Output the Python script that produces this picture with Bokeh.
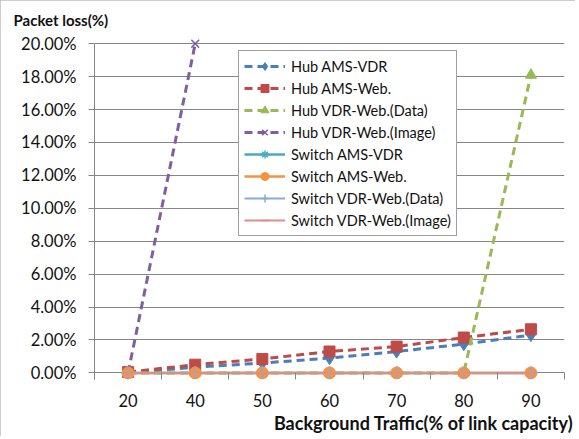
from bokeh.plotting import figure
from bokeh.models import FixedTicker, Legend, LegendItem, Title, InlineStyleSheet
from bokeh.embed import file_html
from bokeh.resources import INLINE

categories = ["20", "40", "50", "60", "70", "80", "90"]
hub_ams_vdr = [0.0, 0.35, 0.6, 0.9, 1.3, 1.75, 2.3]
hub_ams_web = [0.05, 0.5, 0.85, 1.3, 1.6, 2.15, 2.65]
hub_vdr_web_data = [0.0, 0.0, 0.0, 0.0, 0.0, 0.0, 18.1]
hub_vdr_web_image = [0.0, 20.0]
switch_ams_vdr = [0.0, 0.0, 0.0, 0.0, 0.0, 0.0, 0.0]
switch_ams_web = [0.0, 0.0, 0.0, 0.0, 0.0, 0.0, 0.0]
switch_vdr_web_data = [0.0, 0.0, 0.0, 0.0, 0.0, 0.0, 0.0]
switch_vdr_web_image = [0.0, 0.0, 0.0, 0.0, 0.0, 0.0, 0.0]
y_ticks = [0, 2, 4, 6, 8, 10, 12, 14, 16, 18, 20]

FONT = "Lato"
n = len(categories)
xpos = [i + 0.5 for i in range(n)]

p = figure(width=575, height=436, output_backend="svg", toolbar_location=None,
           x_range=(0, n), y_range=(-0.4, 20.5),
           min_border_left=94, min_border_right=11, min_border_top=35, min_border_bottom=57)
p.stylesheets.append(InlineStyleSheet(css=":host { outline: 1px solid #bdbdbd; outline-offset: -1px; }"))
p.outline_line_color = None
p.background_fill_color = "white"
p.border_fill_color = "white"

# x axis: line hidden (the 0 gridline plays its role), boundary ticks drawn from the 0 line down
p.xaxis.ticker = FixedTicker(ticks=xpos, minor_ticks=list(range(n + 1)))
p.xaxis.major_label_overrides = {x: c for x, c in zip(xpos, categories)}
p.xaxis.major_tick_out = 0
p.xaxis.major_tick_in = 0
p.xaxis.minor_tick_in = 7
p.xaxis.minor_tick_out = 0
p.xaxis.minor_tick_line_color = "#868686"
p.xaxis.axis_line_color = None
p.xaxis.major_label_standoff = 14
p.xaxis.major_label_text_font = FONT
p.xaxis.major_label_text_font_size = "16.5px"
p.xaxis.major_label_text_color = "#111111"

p.yaxis.ticker = FixedTicker(ticks=y_ticks)
p.yaxis.bounds = (-0.4, 20)
p.yaxis.major_label_overrides = {t: "%.2f%%" % t for t in y_ticks}
p.yaxis.major_tick_out = 6
p.yaxis.major_tick_in = 0
p.yaxis.minor_tick_out = 0
p.yaxis.minor_tick_in = 0
p.yaxis.major_tick_line_color = "#868686"
p.yaxis.axis_line_color = "#868686"
p.yaxis.major_label_standoff = 12
p.yaxis.major_label_text_font = FONT
p.yaxis.major_label_text_font_size = "16.5px"
p.yaxis.major_label_text_color = "#111111"

p.xgrid.grid_line_color = None
p.ygrid.ticker = FixedTicker(ticks=y_ticks)
p.ygrid.grid_line_color = "#868686"
p.ygrid.grid_line_width = 1

dash = "8 5"
series = [
    ("Hub AMS-VDR", hub_ams_vdr, "#4A7EBB", "diamond", dash, 3, 13),
    ("Hub AMS-Web.", hub_ams_web, "#BE4B48", "square", dash, 3, 11),
    ("Hub VDR-Web.(Data)", hub_vdr_web_data, "#98B954", "triangle", dash, 3, 11),
    ("Hub VDR-Web.(Image)", hub_vdr_web_image, "#7D60A0", "x", dash, 3, 11),
    ("Switch AMS-VDR", switch_ams_vdr, "#46AAC5", "asterisk", "solid", 2.5, 11),
    ("Switch AMS-Web.", switch_ams_web, "#F69240", "circle", "solid", 2.5, 12),
    ("Switch VDR-Web.(Data)", switch_vdr_web_data, "#8EA9D6", "cross", "solid", 2, 13),
    ("Switch VDR-Web.(Image)", switch_vdr_web_image, "#D7908E", "dash", "solid", 2, 9),
]

items = []
for name, vals, color, marker, ld, lw, ms in series:
    xs = xpos[:len(vals)]
    r1 = p.line(xs, vals, line_color=color, line_width=lw, line_dash=ld)
    if marker in ("x", "asterisk", "cross", "dash"):
        r2 = p.scatter(xs, vals, marker=marker, size=ms, line_color=color, line_width=1.5)
    else:
        r2 = p.scatter(xs, vals, marker=marker, size=ms, fill_color=color, line_color=color)
    items.append(LegendItem(label=name, renderers=[r1, r2]))

legend = Legend(items=items, location=(144, 143))
legend.label_text_font = FONT
legend.label_text_font_size = "14.5px"
legend.label_text_color = "#111111"
legend.border_line_color = "#404040"
legend.border_line_width = 1.2
legend.background_fill_color = "white"
legend.background_fill_alpha = 1
legend.glyph_width = 41
legend.glyph_height = 20
legend.label_height = 20
legend.label_standoff = 6
legend.spacing = 2
legend.padding = 5
legend.margin = 0
p.add_layout(legend, "center")

p.add_layout(Title(text="Packet loss(%)", align="left", offset=-81, text_font=FONT,
                   text_font_size="15px", text_font_style="bold", text_color="#111111",
                   standoff=13), "above")
p.add_layout(Title(text="Background Traffic(% of link capacity)", align="right", offset=-9,
                   text_font=FONT, text_font_size="18px", text_font_style="bold",
                   text_color="#111111", standoff=0), "below")

open("out.html", "w").write(file_html(p, INLINE))
